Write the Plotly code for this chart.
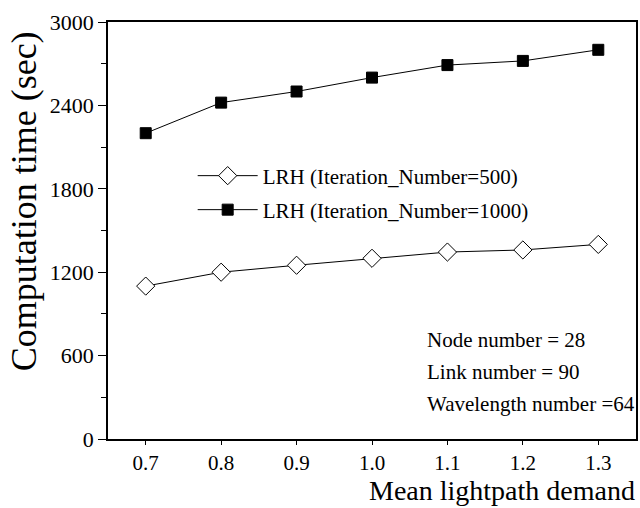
import plotly.graph_objects as go

demand = [0.7, 0.8, 0.9, 1.0, 1.1, 1.2, 1.3]
lrh_500 = [1100, 1200, 1250, 1300, 1345, 1360, 1400]
lrh_1000 = [2200, 2420, 2500, 2600, 2690, 2720, 2800]
x_ticks = [0.7, 0.8, 0.9, 1.0, 1.1, 1.2, 1.3]
x_tick_text = ["0.7", "0.8", "0.9", "1.0", "1.1", "1.2", "1.3"]
y_ticks = [0, 600, 1200, 1800, 2400, 3000]
notes = ["Node number = 28", "Link number = 90", "Wavelength number =64"]

FONT = "Liberation Serif"
L, R, T, B = 108, 2, 22, 69
PW, PH = 640 - L - R, 508 - T - B


def px(xp):
    return (xp - L) / PW


def py(yp):
    return (508 - B - yp) / PH


fig = go.Figure()
fig.add_trace(go.Scatter(
    x=demand, y=lrh_500, mode="lines+markers",
    name="LRH (Iteration_Number=500)", legend="legend",
    line=dict(color="black", width=1),
    marker=dict(symbol="diamond", size=14, color="white",
                line=dict(color="black", width=1)),
))
fig.add_trace(go.Scatter(
    x=demand, y=lrh_1000, mode="lines+markers",
    name="LRH (Iteration_Number=1000)", legend="legend2",
    line=dict(color="black", width=1),
    marker=dict(symbol="square", size=11, color="black",
                line=dict(color="black", width=1)),
))

for i, t in enumerate(notes):
    fig.add_annotation(
        xref="paper", yref="paper", x=px(426),
        y=py(340 + 32 * i),
        text=t, showarrow=False, xanchor="left", yanchor="middle",
        font=dict(family=FONT, size=21, color="black"),
    )

fig.add_annotation(
    xref="paper", yref="paper", x=1.0, y=py(507),
    text="Mean lightpath demand", showarrow=False, borderpad=0,
    xanchor="right", yanchor="bottom",
    font=dict(family=FONT, size=28, color="black"),
)
fig.add_annotation(
    xref="paper", yref="paper", x=px(24), y=py(201),
    text="Computation time (sec)", showarrow=False, textangle=-90,
    xanchor="center", yanchor="middle",
    font=dict(family=FONT, size=36, color="black"),
)

leg_common = dict(xanchor="left", yanchor="middle",
                  bgcolor="rgba(0,0,0,0)", borderwidth=0, itemwidth=60,
                  font=dict(family=FONT, size=21, color="black"))

fig.update_layout(
    width=640, height=508,
    margin=dict(l=L, r=R, t=T, b=B),
    paper_bgcolor="white", plot_bgcolor="white",
    font=dict(family=FONT, size=22, color="black"),
    showlegend=True,
    legend=dict(x=px(193), y=py(176), **leg_common),
    legend2=dict(x=px(193), y=py(210), **leg_common),
    xaxis=dict(
        range=[0.65, 1.35], tickvals=x_ticks, ticktext=x_tick_text,
        showgrid=False, zeroline=False, showline=True, linecolor="black",
        linewidth=1.5, mirror=True, ticks="outside", ticklen=4,
        tickwidth=1.2, tickcolor="black",
        tickfont=dict(family=FONT, size=21, color="black"),
    ),
    yaxis=dict(
        range=[0, 3000], tickvals=y_ticks,
        showgrid=False, zeroline=False, showline=True, linecolor="black",
        linewidth=1.5, mirror=True, ticks="outside", ticklen=8,
        tickwidth=1.2, tickcolor="black",
        minor=dict(dtick=300, ticks="outside", ticklen=5, tickcolor="black",
                   tickwidth=1.2, showgrid=False),
        tickfont=dict(family=FONT, size=22, color="black"),
    ),
)

fig.write_html("out.html")
